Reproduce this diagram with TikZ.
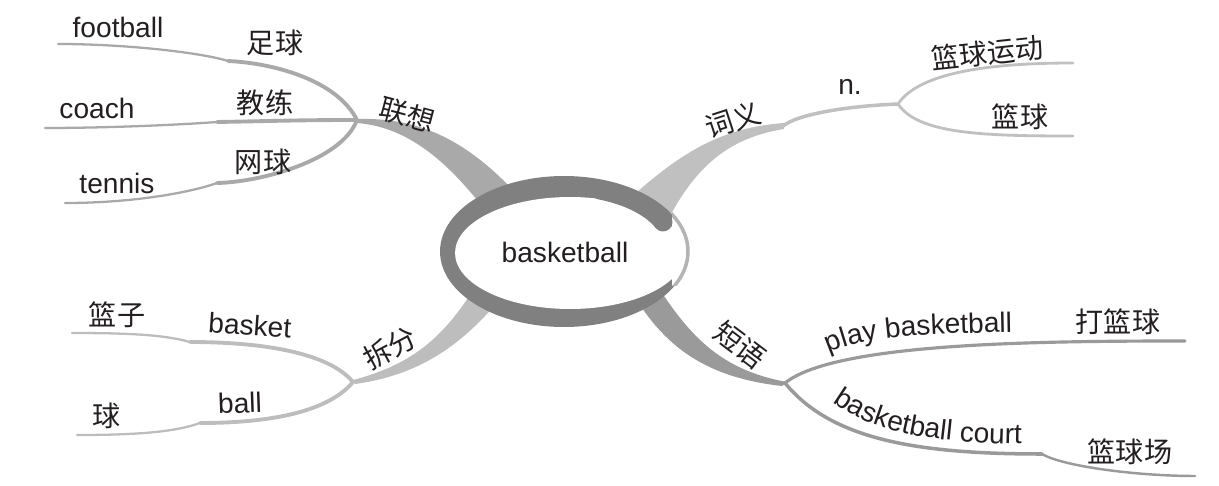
\documentclass[tikz,border=0pt]{standalone}
\usepackage{fontspec}
\setmainfont{Liberation Sans}
\newfontfamily\cjk{Noto Sans CJK SC}
\usepackage{tikz}
\usetikzlibrary{decorations.text}

\definecolor{inkc}{HTML}{231F20}
\definecolor{ringdark}{HTML}{808080}
\definecolor{ringlight}{HTML}{B4B4B4}
\definecolor{lxgray}{HTML}{A9A9A9}
\definecolor{cygray}{HTML}{C0C0C0}
\definecolor{dygray}{HTML}{9A9A9A}
\definecolor{cfgray}{HTML}{BDBDBD}

\newcommand{\entx}{\fontsize{16}{19}\selectfont\color{inkc}}
% words written along a bent baseline
\newcommand{\bentword}[2]{%
  \path[decorate, decoration={text along path, text align=center,
    text={|\entx|#1}}] #2;
}

\tikzset{
  en/.style={font=\fontsize{16}{19}\selectfont, text=inkc, inner sep=1pt},
  zh/.style={font=\cjk\fontsize{16}{19}\selectfont, text=inkc, inner sep=1pt},
  twig/.style={line width=#1, line cap=round},
  twig/.default=2.2pt,
  rim/.style={x radius=2.48cm, y radius=1.51cm},
}

\begin{document}
\begin{tikzpicture}[x=0.02cm, y=0.02cm]
  \useasboundingbox (0,0) rectangle (1219,-486);

  % hubs and bends
  \coordinate (lx) at (357,-120);
  \coordinate (fbk) at (228,-61);  \coordinate (fbe) at (58,-44);
  \coordinate (cok) at (217,-122); \coordinate (coe) at (45,-128);
  \coordinate (tnk) at (217,-183); \coordinate (tne) at (65,-203);
  \coordinate (cyk) at (783,-126); \coordinate (cy) at (898,-104);
  \coordinate (yde) at (1073,-63); \coordinate (bbe) at (1073,-136);
  \coordinate (dy) at (785,-383);
  \coordinate (pbe) at (1185,-341);
  \coordinate (bck) at (1042,-454); \coordinate (bce) at (1195,-476);
  \coordinate (cf) at (353,-382);
  \coordinate (bsk) at (190,-342); \coordinate (bse) at (72,-333);
  \coordinate (blk) at (200,-423); \coordinate (ble) at (77,-435);

  % thick limbs out of the ring
  \fill[lxgray] (357,-119) .. controls (425,-117) and (470,-145) .. (515,-192)
    -- (485,-210) .. controls (450,-165) and (410,-127) .. (357,-123) -- cycle;
  \fill[cygray] (636,-193) .. controls (690,-145) and (730,-127) .. (784,-123)
    -- (784,-129) .. controls (735,-137) and (700,-160) .. (670,-216) -- cycle;
  \fill[dygray] (660,-290) .. controls (690,-335) and (720,-370) .. (787,-382)
    -- (782,-386) .. controls (710,-378) and (670,-350) .. (640,-305) -- cycle;
  \fill[cfgray] (470,-295) .. controls (440,-340) and (410,-365) .. (353,-380)
    -- (355,-384) .. controls (420,-375) and (460,-345) .. (495,-305) -- cycle;

  % twigs
  \draw[lxgray, twig] (lx) .. controls +(-20,40) and +(45,-2) .. (fbk);
  \draw[lxgray, twig=1.3pt] (fbk) .. controls +(-25,8) and +(70,0) .. (fbe);
  \draw[lxgray, twig] (lx) .. controls +(-60,0) and +(60,1) .. (cok);
  \draw[lxgray, twig=1.3pt] (cok) .. controls +(-40,-3) and +(60,0) .. (coe);
  \draw[lxgray, twig] (lx) .. controls +(-15,-40) and +(45,1) .. (tnk);
  \draw[lxgray, twig=1.3pt] (tnk) .. controls +(-25,-9) and +(70,0) .. (tne);

  \draw[cygray, twig=2pt] (cyk) .. controls +(15,12) and +(-50,-2) .. (cy);
  \draw[cygray, twig=1.6pt] (cy) .. controls +(20,30) and +(-90,0) .. (yde);
  \draw[cygray, twig=1.6pt] (cy) .. controls +(20,-30) and +(-90,0) .. (bbe);

  \draw[dygray, twig=1.8pt] (dy) .. controls +(50,40) and +(-150,0) .. (pbe);
  \draw[dygray, twig=2pt] (dy) .. controls +(45,-55) and +(-130,0) .. (bck);
  \draw[dygray, twig=1.4pt] (bck) .. controls +(20,-12) and +(-60,0) .. (bce);

  \draw[cfgray, twig] (cf) .. controls +(-25,30) and +(70,0) .. (bsk);
  \draw[cfgray, twig=1.3pt] (bsk) .. controls +(-25,7) and +(60,0) .. (bse);
  \draw[cfgray, twig] (cf) .. controls +(-25,-30) and +(70,0) .. (blk);
  \draw[cfgray, twig=1.3pt] (blk) .. controls +(-25,-9) and +(60,0) .. (ble);

  % the ring, open at the upper right
  \fill[ringdark] (564,-251.5) ellipse [rim];
  \fill[white] (570,-253) ellipse [x radius=2.30cm, y radius=1.12cm];
  \begin{scope}
    \clip (672,-160) rectangle (700,-285);
    \fill[white] (564,-251.5) ellipse [rim];
    \draw[ringlight, line width=2pt] (564,-251.5) ellipse [rim];
  \end{scope}
  \draw[ringdark, line width=10.8pt, line cap=round]
    (600,-190) .. controls (630,-196) and (652,-208) .. (663,-222);
  \node[en] (ctr) at (565,-252) {basketball};

  % labels
  \node[zh, rotate=-15] (lxl) at (407,-115) {联想};
  \node[zh] (fbz) at (275,-43) {足球};
  \node[zh] (coz) at (265,-103) {教练};
  \node[zh] (tnz) at (263,-162) {网球};
  \node[en] (fbn) at (118,-27) {football};
  \node[en] (con) at (97,-108) {coach};
  \node[en] (tnn) at (117,-183) {tennis};

  \node[zh, rotate=18] (cyl) at (733,-120) {词义};
  \node[en] (nl) at (850,-87) {n.};
  \node[zh, rotate=6] (ydz) at (987,-53) {篮球运动};
  \node[zh] (bbz) at (1020,-117) {篮球};

  \node[zh, rotate=-37] (dyl) at (740,-345) {短语};
  \bentword{play basketball}{(826,-354) .. controls (860,-338) and (900,-334) .. (1015,-332)}
  \node[zh] (pbz) at (1118,-322) {打篮球};
  \bentword{basketball court}{(830,-400) .. controls (870,-430) and (920,-443) .. (1025,-444)}
  \node[zh] (bcz) at (1130,-452) {篮球场};

  \node[zh, rotate=28] (cfl) at (390,-348) {拆分};
  \node[en, rotate=-4] (bsn) at (250,-325) {basket};
  \node[zh] (bsz) at (117,-315) {篮子};
  \node[en, rotate=2] (bln) at (240,-403) {ball};
  \node[zh] (blz) at (107,-416) {球};
\end{tikzpicture}
\end{document}
